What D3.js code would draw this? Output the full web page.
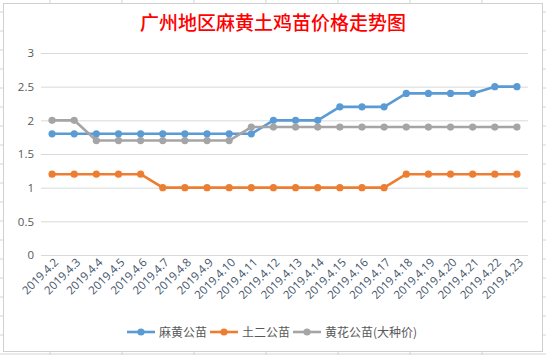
<!DOCTYPE html>
<html><head><meta charset="utf-8">
<script src="https://cdn.jsdelivr.net/npm/d3@7/dist/d3.min.js"></script>
<style>body{margin:0;background:#fff;}svg{display:block;}</style>
</head><body>
<svg id="c" width="546" height="355"></svg>
<script>
const categories = ["2019.4.2","2019.4.3","2019.4.4","2019.4.5","2019.4.6","2019.4.7","2019.4.8","2019.4.9","2019.4.10","2019.4.11","2019.4.12","2019.4.13","2019.4.14","2019.4.15","2019.4.16","2019.4.17","2019.4.18","2019.4.19","2019.4.20","2019.4.21","2019.4.22","2019.4.23"];
const mahuang = [1.8,1.8,1.8,1.8,1.8,1.8,1.8,1.8,1.8,1.8,2.0,2.0,2.0,2.2,2.2,2.2,2.4,2.4,2.4,2.4,2.5,2.5];
const tuer = [1.2,1.2,1.2,1.2,1.2,1.0,1.0,1.0,1.0,1.0,1.0,1.0,1.0,1.0,1.0,1.0,1.2,1.2,1.2,1.2,1.2,1.2];
const huanghua = [2.0,2.0,1.7,1.7,1.7,1.7,1.7,1.7,1.7,1.9,1.9,1.9,1.9,1.9,1.9,1.9,1.9,1.9,1.9,1.9,1.9,1.9];
const yTicks = [0,0.5,1,1.5,2,2.5,3];
const seriesNames = ["麻黄公苗","土二公苗","黄花公苗(大种价)"];
const colors = ["#5B9BD5","#ED7D31","#A5A5A5"];
const title = "广州地区麻黄土鸡苗价格走势图";

const svg = d3.select("#c");
const W = 546, H = 355;
// spreadsheet background gridlines
const bg = svg.append("g");
for (let x = 50; x < W; x += 72) bg.append("line").attr("x1",x).attr("x2",x).attr("y1",0).attr("y2",H).attr("stroke","#d4d4d4");
for (let y = 12; y < H; y += 19) bg.append("line").attr("x1",0).attr("x2",W).attr("y1",y).attr("y2",y).attr("stroke","#d4d4d4");
svg.append("rect").attr("x",3.5).attr("y",3.5).attr("width",539).attr("height",348)
  .attr("fill","#fff").attr("stroke","#d0d0d0").attr("stroke-width",1);

svg.append("text").attr("x",273).attr("y",30).attr("text-anchor","middle")
  .attr("font-family","'Noto Sans CJK SC'").attr("font-size",19).attr("font-weight",500)
  .attr("fill","#FF0000").text(title);

const x = d3.scaleBand().domain(categories).range([41,528]);
const y = d3.scaleLinear().domain([0,3]).range([255,53]);

const yAxis = d3.axisLeft(y).tickValues(yTicks).tickSize(-(528-41)).tickPadding(7).tickFormat(d3.format("~g"));
const gy = svg.append("g").attr("transform","translate(41,0)").call(yAxis);
gy.select(".domain").remove();
gy.selectAll(".tick line").attr("stroke","#d9d9d9");
gy.selectAll(".tick text").attr("fill","#595959").attr("font-family","'Open Sans', 'Liberation Sans', sans-serif").attr("font-size",11.5);

const xAxis = d3.axisBottom(x).tickSize(0).tickPadding(0);
const gx = svg.append("g").attr("transform","translate(0,255)").call(xAxis);
gx.select(".domain").remove();
gx.selectAll(".tick text")
  .attr("fill","#44546A").attr("font-family","'Open Sans', 'Liberation Sans', sans-serif").attr("font-size",11.5)
  .attr("text-anchor","end").attr("dy",0)
  .attr("transform","translate(7,8) rotate(-45)");

const allSeries = [mahuang, tuer, huanghua];
const line = d3.line().x((d,i)=>x(categories[i])+x.bandwidth()/2).y(d=>y(d));
allSeries.forEach((vals,si)=>{
  const g = svg.append("g");
  g.append("path").datum(vals).attr("d",line).attr("fill","none").attr("stroke",colors[si]).attr("stroke-width",2.6).attr("stroke-linejoin","round");
  g.selectAll("circle").data(vals).join("circle")
    .attr("cx",(d,i)=>x(categories[i])+x.bandwidth()/2).attr("cy",d=>y(d)).attr("r",3.6).attr("fill",colors[si]);
});

// legend
const legX = [127,210,293];
seriesNames.forEach((n,i)=>{
  const g = svg.append("g").attr("transform",`translate(${legX[i]},332)`);
  g.append("line").attr("x1",0).attr("x2",28).attr("y1",0).attr("y2",0).attr("stroke",colors[i]).attr("stroke-width",2.6);
  g.append("circle").attr("cx",14).attr("cy",0).attr("r",3.6).attr("fill",colors[i]);
  g.append("text").attr("x",32).attr("y",4.5).attr("fill","#595959")
    .attr("font-family","'Noto Sans CJK SC'").attr("font-size",12).text(n);
});
</script>
</body></html>
